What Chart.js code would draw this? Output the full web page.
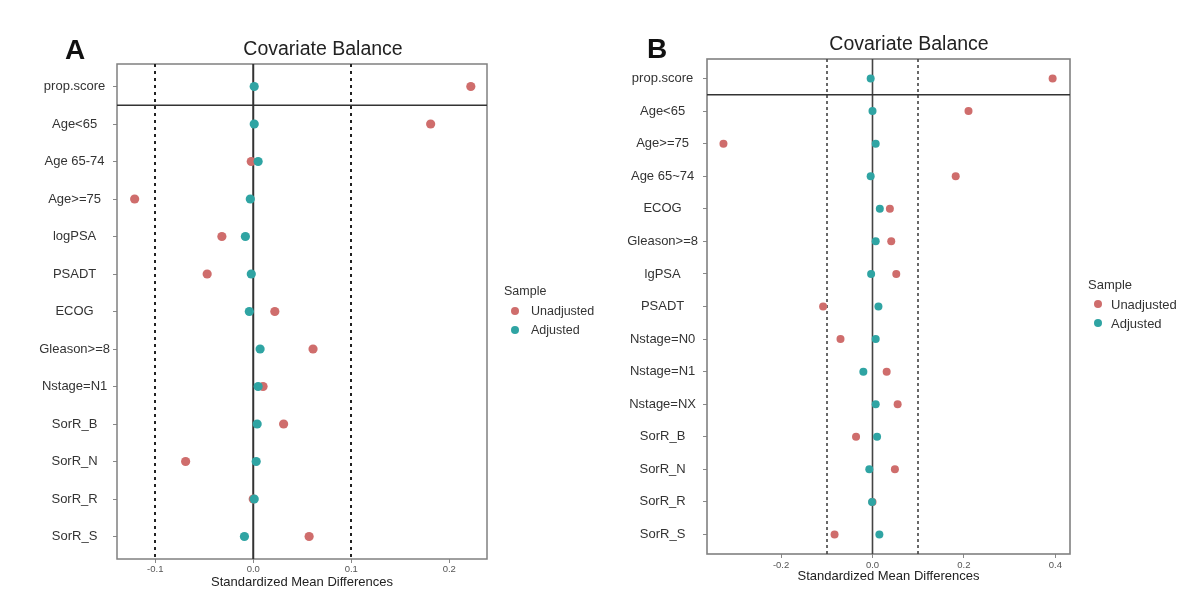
<!DOCTYPE html>
<html>
<head>
<meta charset="utf-8">
<script src="https://cdn.jsdelivr.net/npm/chart.js@4.4.1/dist/chart.umd.min.js"></script>
<style>
  html, body { margin:0; padding:0; background:#fff; }
  body { width:1198px; height:606px; position:relative; overflow:hidden; font-family:"Liberation Sans", Arial, sans-serif; }
  canvas { position:absolute; top:0; }
  #cA { left:0; }
  #cB { left:600px; }
  .txt { position:absolute; white-space:nowrap; color:#222; line-height:1; }
  .letter { font-weight:bold; font-size:28px; color:#111; transform:translate(-50%,-50%); }
  .title { font-size:19.5px; transform:translate(-50%,-50%); }
  .leg { font-size:12.5px; color:#333; transform:translateY(-50%); }
  .legB { font-size:13px; }
  .dot { position:absolute; width:8px; height:8px; border-radius:50%; transform:translate(-50%,-50%); }
</style>
</head>
<body>
<canvas id="cA" width="600" height="606" style="width:600px;height:606px"></canvas>
<canvas id="cB" width="598" height="606" style="width:598px;height:606px"></canvas>

<div class="txt letter" style="left:75px;top:50px">A</div>
<div class="txt title" style="left:323px;top:49px">Covariate Balance</div>
<div class="txt letter" style="left:657px;top:49px">B</div>
<div class="txt title" style="left:909px;top:44px">Covariate Balance</div>

<div class="txt leg" style="left:504px;top:291px">Sample</div>
<div class="dot" id="dA1" style="left:515px;top:311px"></div>
<div class="txt leg" style="left:531px;top:311px">Unadjusted</div>
<div class="dot" id="dA2" style="left:515px;top:330px"></div>
<div class="txt leg" style="left:531px;top:330px">Adjusted</div>

<div class="txt leg legB" style="left:1088px;top:284px">Sample</div>
<div class="dot" id="dB1" style="left:1098px;top:304px"></div>
<div class="txt leg legB" style="left:1111px;top:304px">Unadjusted</div>
<div class="dot" id="dB2" style="left:1098px;top:323px"></div>
<div class="txt leg legB" style="left:1111px;top:323px">Adjusted</div>

<script>
// ---------- data ----------
const seriesNames = ["Unadjusted", "Adjusted"];
const thresholds = [-0.1, 0.1];

const catsA = ["prop.score","Age<65","Age 65-74","Age>=75","logPSA","PSADT","ECOG","Gleason>=8","Nstage=N1","SorR_B","SorR_N","SorR_R","SorR_S"];
const unadjA = [0.222, 0.181, -0.002, -0.121, -0.032, -0.047, 0.022, 0.061, 0.010, 0.031, -0.069, 0.000, 0.057];
const adjA   = [0.001, 0.001, 0.005, -0.003, -0.008, -0.002, -0.004, 0.007, 0.005, 0.004, 0.003, 0.001, -0.009];
const xTicksA = [-0.1, 0.0, 0.1, 0.2];

const catsB = ["prop.score","Age<65","Age>=75","Age 65~74","ECOG","Gleason>=8","lgPSA","PSADT","Nstage=N0","Nstage=N1","Nstage=NX","SorR_B","SorR_N","SorR_R","SorR_S"];
const unadjB = [0.394, 0.210, -0.326, 0.182, 0.038, 0.041, 0.052, -0.108, -0.070, 0.031, 0.055, -0.036, 0.049, 0.000, -0.083];
const adjB   = [-0.004, 0.000, 0.007, -0.004, 0.016, 0.007, -0.003, 0.013, 0.007, -0.020, 0.007, 0.010, -0.007, -0.001, 0.015];
const xTicksB = [-0.2, 0.0, 0.2, 0.4];

const colUnadj = "#cf6d6c";
const colAdj = "#2fa4a3";
document.getElementById('dA1').style.background = colUnadj;
document.getElementById('dB1').style.background = colUnadj;
document.getElementById('dA2').style.background = colAdj;
document.getElementById('dB2').style.background = colAdj;

// ---------- reference lines plugin ----------
const refLines = {
  id: 'refLines',
  beforeDatasetsDraw(chart, args, o) {
    const {ctx, chartArea:{left,right,top,bottom}, scales:{x,y}} = chart;
    ctx.save();
    // panel border
    ctx.setLineDash([]);
    ctx.strokeStyle = '#808080';
    ctx.lineWidth = o.borderWidth;
    ctx.strokeRect(left, top, right-left, bottom-top);
    // thresholds (dotted)
    ctx.strokeStyle = o.dashColor;
    ctx.lineWidth = o.dashWidth;
    ctx.setLineDash(o.dash);
    for (const t of thresholds) {
      const px = Math.round(x.getPixelForValue(t));
      ctx.beginPath(); ctx.moveTo(px, top); ctx.lineTo(px, bottom); ctx.stroke();
    }
    // zero line
    ctx.setLineDash([]);
    ctx.strokeStyle = o.zeroColor;
    ctx.lineWidth = o.zeroWidth;
    const zx = x.getPixelForValue(0);
    ctx.beginPath(); ctx.moveTo(zx, top); ctx.lineTo(zx, bottom); ctx.stroke();
    // separator below distance row
    ctx.strokeStyle = '#333';
    ctx.lineWidth = 1.5;
    const sy = y.getPixelForValue(0.5);
    ctx.beginPath(); ctx.moveTo(left, sy); ctx.lineTo(right, sy); ctx.stroke();
    ctx.restore();
  }
};

function makeChart(id, cats, unadj, adj, xTicks, cfg) {
  const toPts = arr => arr.map((v, i) => ({x: v, y: i}));
  return new Chart(document.getElementById(id), {
    type: 'scatter',
    data: {
      datasets: [
        { label: seriesNames[0], data: toPts(unadj), backgroundColor: colUnadj, borderWidth: 0, pointRadius: cfg.r, order: 1 },
        { label: seriesNames[1], data: toPts(adj), backgroundColor: colAdj, borderWidth: 0, pointRadius: cfg.r, order: 0 }
      ]
    },
    options: {
      responsive: false,
      animation: false,
      layout: { padding: cfg.padding },
      plugins: {
        legend: { display: false },
        tooltip: { enabled: false },
        refLines: { dash: cfg.dash, dashWidth: cfg.dashWidth, dashColor: cfg.dashColor,
                    zeroWidth: cfg.zeroWidth, zeroColor: cfg.zeroColor, borderWidth: cfg.borderWidth }
      },
      scales: {
        x: {
          type: 'linear',
          min: cfg.xmin, max: cfg.xmax,
          afterBuildTicks: s => { s.ticks = xTicks.map(v => ({value: v})); },
          afterFit: s => { s.height = cfg.xh; },
          grid: { drawOnChartArea: false, drawTicks: true, tickLength: 4, color: '#888' },
          border: { display: false },
          ticks: { color: '#555', font: { size: 9.5, family: '"Liberation Sans", Arial' }, padding: cfg.xpad, maxRotation: 0,
                   callback: v => Number(v).toFixed(1) },
          title: { display: true, text: 'Standardized Mean Differences', color: '#222',
                   font: { size: 13, family: '"Liberation Sans", Arial' }, padding: { top: 0, bottom: 0 } }
        },
        y: {
          type: 'linear',
          reverse: true,
          min: -0.6, max: cats.length - 0.4,
          afterBuildTicks: s => { s.ticks = cats.map((_, i) => ({value: i})); },
          afterFit: s => { s.width = cfg.yw; },
          grid: { drawOnChartArea: false, drawTicks: true, tickLength: 4, color: '#888' },
          border: { display: false },
          ticks: { color: '#333', font: { size: 13, family: '"Liberation Sans", Arial' }, padding: cfg.ypad,
                   crossAlign: 'center', callback: v => cats[v] }
        }
      }
    },
    plugins: [refLines]
  });
}

makeChart('cA', catsA, unadjA, adjA, xTicksA, {
  r: 4.6, xmin: -0.139, xmax: 0.2385, xh: 31, yw: 117, xpad: 1, ypad: 3,
  padding: { left: 0, right: 113, top: 64, bottom: 16 },
  dash: [3, 4], dashWidth: 2, dashColor: '#222', zeroWidth: 2, zeroColor: '#333', borderWidth: 1.5
});

makeChart('cB', catsB, unadjB, adjB, xTicksB, {
  r: 4, xmin: -0.362, xmax: 0.432, xh: 30, yw: 107, xpad: 1.5, ypad: 5,
  padding: { left: 0, right: 128, top: 59, bottom: 22 },
  dash: [3, 3], dashWidth: 1.6, dashColor: '#444', zeroWidth: 1.6, zeroColor: '#444', borderWidth: 1.6
});
</script>
</body>
</html>
